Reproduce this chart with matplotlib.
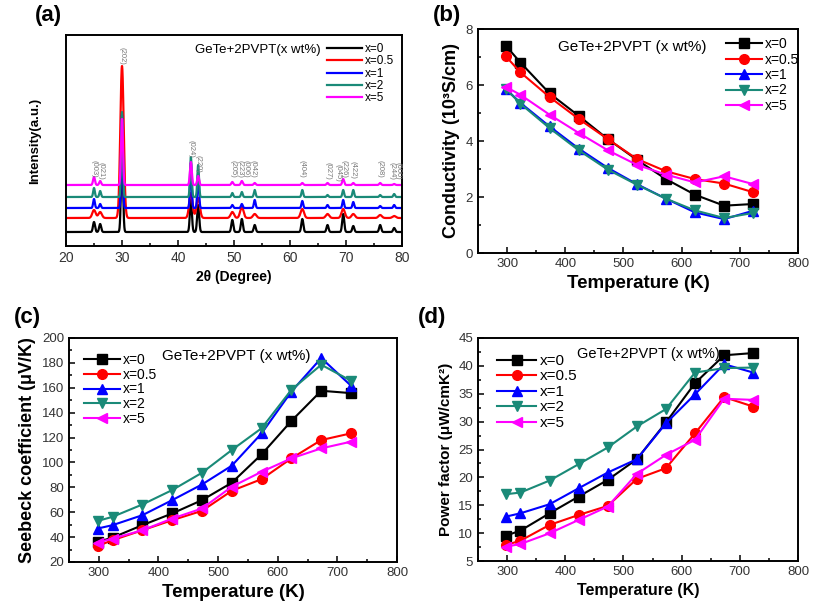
import numpy as np
import matplotlib
matplotlib.use('Agg')
import matplotlib.pyplot as plt
from matplotlib.ticker import MultipleLocator

plt.rcParams['font.family'] = ['Liberation Sans', 'DejaVu Sans']

# ---- data ----
labels = ['x=0', 'x=0.5', 'x=1', 'x=2', 'x=5']
colors = ['black', 'red', 'blue', '#1a8a78', '#ff00ff']
markers = ['s', 'o', '^', 'v', '<']

temps = [298, 323, 373, 423, 473, 523, 573, 623, 673, 723]

sigma_vals = [
    [7.40, 6.80, 5.70, 4.90, 4.07, 3.33, 2.64, 2.08, 1.69, 1.75],
    [7.02, 6.45, 5.57, 4.79, 4.07, 3.36, 2.92, 2.64, 2.48, 2.17],
    [5.86, 5.36, 4.52, 3.73, 3.04, 2.46, 1.94, 1.45, 1.21, 1.51],
    [5.86, 5.33, 4.46, 3.67, 2.98, 2.44, 1.94, 1.52, 1.25, 1.43],
    [5.93, 5.65, 4.94, 4.29, 3.67, 3.15, 2.80, 2.52, 2.74, 2.46],
]

seebeck_vals = [
    [36.1, 39.6, 49.6, 59.0, 69.7, 83.7, 106.5, 133.4, 157.6, 155.7],
    [32.9, 37.5, 45.5, 53.6, 61.1, 77.2, 86.6, 103.3, 118.0, 123.4],
    [46.9, 49.6, 57.6, 69.7, 82.3, 97.4, 123.4, 157.0, 183.9, 161.6],
    [53.0, 56.3, 66.2, 77.8, 91.7, 110.0, 127.5, 158.4, 178.5, 165.6],
    [35.6, 38.8, 45.5, 54.9, 63.0, 80.5, 92.5, 103.3, 111.3, 116.7],
]

pf_vals = [
    [9.55, 10.45, 13.56, 16.56, 19.55, 23.26, 29.85, 36.9, 41.9, 42.3],
    [7.87, 8.65, 11.47, 13.26, 14.88, 19.73, 21.65, 27.9, 34.4, 32.7],
    [12.96, 13.56, 15.18, 18.05, 20.87, 23.26, 29.7, 34.9, 40.3, 38.8],
    [16.98, 17.28, 19.43, 22.37, 25.36, 29.13, 32.25, 38.8, 39.6, 39.7],
    [7.57, 8.05, 9.97, 12.37, 14.76, 20.63, 24.04, 26.74, 34.1, 33.9],
]

# XRD: peak positions (2theta), peak heights per sample, baseline offsets
peak_pos = [25.0, 26.1, 30.0, 42.3, 43.6, 49.7, 51.4, 53.7, 62.2, 66.7, 69.5, 71.3, 76.1, 78.6]
peak_h = [
    [10, 8, 80, 32, 27, 12, 13, 7, 13, 7, 18, 6, 7, 4],
    [8, 6, 152, 25, 20, 6, 11, 4, 9, 4, 9, 4, 3, 2],
    [9, 4, 93, 45, 35, 3, 4, 8, 7, 3, 8, 6, 2, 3],
    [9, 6, 85, 40, 32, 4, 5, 7, 7, 2, 7, 7, 2, 3],
    [8, 4, 66, 23, 9, 3, 4, 2, 2, 2, 6, 2, 2, 1],
]
peak_w = [0.18, 0.30, 0.15, 0.15, 0.17]
baselines = [14, 28, 38, 49, 61]

hkl = ['(003)', '(021)', '(202)', '(024)', '(220)', '(205)', '(223)', '(006)', '(042)',
       '(404)', '(027)', '(045)', '(226)', '(422)', '(208)', '(244)', '(600)']
hkl_pos = [25.0, 26.2, 30.0, 42.3, 43.6, 49.8, 51.0, 52.2, 53.4,
           62.2, 66.7, 68.6, 69.7, 71.3, 76.0, 78.2, 79.3]
hkl_y = [68, 66, 181, 88, 73, 68, 68, 68, 68, 68, 66, 64, 68, 67, 68, 66, 66]

W, H = 833, 607
fig = plt.figure(figsize=(W / 100, H / 100), dpi=100)


def add_ax(l, t, r, b):
    return fig.add_axes([l / W, 1 - b / H, (r - l) / W, (b - t) / H])


def style(ax, fs=9.5):
    for s in ax.spines.values():
        s.set_linewidth(1.4)
    ax.tick_params(which='both', direction='in', labelsize=fs, labelcolor='#333333', width=1.1)
    ax.tick_params(which='major', length=4)
    ax.tick_params(which='minor', length=2)


# ---- (a) XRD ----
axa = add_ax(66, 35, 402, 246)
tt = np.linspace(20, 80, 3000)
for i in range(5):
    y = np.full_like(tt, baselines[i], dtype=float)
    for p, h in zip(peak_pos, peak_h[i]):
        y += h * np.exp(-0.5 * ((tt - p) / peak_w[i]) ** 2)
    axa.plot(tt, y, color=colors[i], lw=1.6, label=labels[i])
for t, p, yy in zip(hkl, hkl_pos, hkl_y):
    axa.text(p, yy, t, rotation=270, fontsize=5.5, color='#777777', ha='center', va='bottom')
axa.set_xlim(20, 80)
axa.set_ylim(0, 211)
axa.set_yticks([])
axa.xaxis.set_major_locator(MultipleLocator(10))
axa.xaxis.set_minor_locator(MultipleLocator(5))
style(axa, 10)
axa.set_xlabel('2θ (Degree)', fontsize=10, fontweight='bold', labelpad=4)
axa.set_ylabel('Intensity(a.u.)', fontsize=9.5, fontweight='bold', labelpad=18)
axa.text(0.384, 0.93, 'GeTe+2PVPT(x wt%)', transform=axa.transAxes, fontsize=9.5, va='center')
axa.legend(loc='upper right', bbox_to_anchor=(1.0, 1.0), frameon=False, fontsize=8.5,
           handlelength=3.0, handletextpad=0.2, labelspacing=0.02, borderaxespad=0.3)


def panel(ax, vals, ylim, ystep, ylabel, ylfs, legfs, legloc, anchor, spacing, note_xy, note_fs):
    for i in range(5):
        ax.plot(temps, vals[i], color=colors[i], marker=markers[i], ms=7, lw=1.5,
                label=labels[i])
    ax.set_xlim(250, 800)
    ax.set_ylim(*ylim)
    ax.set_xticks([300, 400, 500, 600, 700, 800])
    ax.xaxis.set_minor_locator(MultipleLocator(50))
    ax.yaxis.set_major_locator(MultipleLocator(ystep))
    ax.yaxis.set_minor_locator(MultipleLocator(ystep / 2))
    style(ax, 9.5)
    ax.set_ylabel(ylabel, fontsize=ylfs, fontweight='bold')
    ax.text(note_xy[0], note_xy[1], 'GeTe+2PVPT (x wt%)', transform=ax.transAxes,
            fontsize=note_fs, va='center')
    ax.legend(loc=legloc, bbox_to_anchor=anchor, frameon=False, fontsize=legfs,
              handlelength=2.6, handletextpad=0.2, labelspacing=spacing, borderaxespad=0.2)


# ---- (b) conductivity ----
axb = add_ax(478, 29, 798, 253)
panel(axb, sigma_vals, (0, 8), 2, 'Conductivity (10³S/cm)', 13, 10,
      'upper right', (1.03, 1.0), 0.1, (0.25, 0.92), 11)
axb.set_xlabel('Temperature (K)', fontsize=13.5, fontweight='bold')

# ---- (c) Seebeck ----
axc = add_ax(69, 338, 397, 562)
panel(axc, seebeck_vals, (20, 200), 20, 'Seebeck coefficient (μV/K)', 13, 10,
      'upper left', (0.02, 0.97), 0.05, (0.285, 0.92), 11)
axc.set_xlabel('Temperature (K)', fontsize=13.5, fontweight='bold')

# ---- (d) power factor ----
axd = add_ax(478, 338, 798, 561)
panel(axd, pf_vals, (5, 45), 5, 'Power factor (μW/cmK²)', 11, 11,
      'upper left', (0.03, 0.97), 0.1, (0.31, 0.93), 10.5)
axd.set_xlabel('Temperature (K)', fontsize=11.5, fontweight='bold')

for txt, x, y in [('(a)', 35, 16), ('(b)', 433, 16), ('(c)', 14, 318), ('(d)', 418, 318)]:
    fig.text(x / W, 1 - y / H, txt, fontsize=16, fontweight='bold', va='center')

fig.savefig('out.png', dpi=100)
